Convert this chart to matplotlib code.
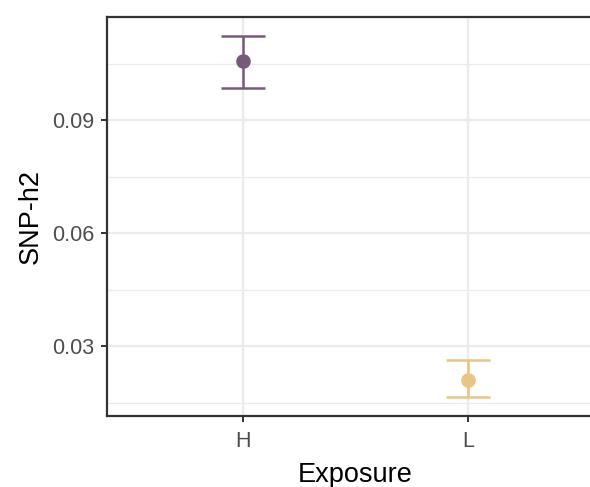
import matplotlib
matplotlib.use("Agg")
import matplotlib.pyplot as plt
from matplotlib.ticker import MultipleLocator

# data
exposure = ["H", "L"]
h2 = [0.1058, 0.0210]
h2_lo = [0.0985, 0.0165]
h2_hi = [0.1123, 0.0263]
colors = ["#775a7b", "#ebc483"]

plt.rcParams["font.family"] = ["Liberation Sans", "DejaVu Sans"]

fig = plt.figure(figsize=(5.9, 4.87), dpi=100)
ax = fig.add_axes([107 / 590, 71 / 487, 497 / 590, 399 / 487])

xs = list(range(1, len(exposure) + 1))
for x, y, lo, hi, c in zip(xs, h2, h2_lo, h2_hi, colors):
    ax.errorbar([x], [y], yerr=[[y - lo], [hi - y]], fmt="o", color=c,
                ms=9.5, elinewidth=1.8, capsize=16, capthick=1.8, zorder=3)

ax.set_xlim(0.4, 2.6)
ax.set_ylim(0.01142, 0.11735)
ax.set_xticks(xs)
ax.set_xticklabels(exposure)
ax.yaxis.set_minor_locator(MultipleLocator(0.015))
ax.set_yticks([0.03, 0.06, 0.09])
ax.set_yticklabels(["0.03", "0.06", "0.09"])

ax.grid(which="major", color="#ebebeb", lw=1.6, zorder=0)
ax.grid(which="minor", axis="y", color="#ebebeb", lw=0.9, zorder=0)
ax.set_axisbelow(True)
for s in ax.spines.values():
    s.set_color("#333333")
    s.set_linewidth(1.6)

ax.tick_params(which="major", length=4, width=1.4, color="#333333",
               labelsize=15.5, labelcolor="#4d4d4d", pad=5)
ax.tick_params(axis="x", which="major", pad=7)
ax.tick_params(which="minor", length=0)

ax.set_xlabel("Exposure", fontsize=19.5, labelpad=7)
ax.set_ylabel("SNP-h2", fontsize=19.5, labelpad=6)

fig.savefig("out.png", dpi=100)
